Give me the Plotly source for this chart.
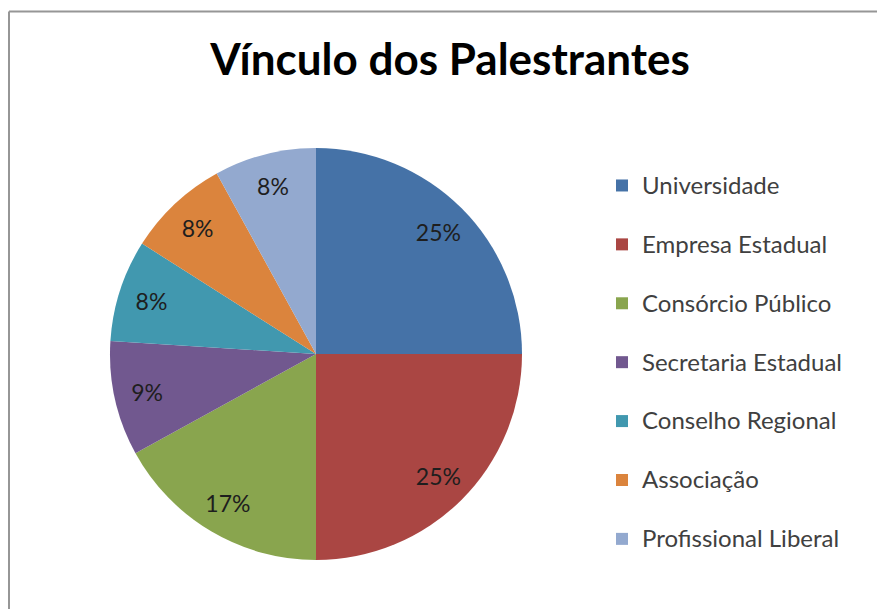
import plotly.graph_objects as go

categories = ["Universidade", "Empresa Estadual", "Consórcio Público",
              "Secretaria Estadual", "Conselho Regional", "Associação",
              "Profissional Liberal"]
values = [25, 25, 17, 9, 8, 8, 8]
colors = ["#4572A7", "#AA4643", "#89A54E", "#71588F", "#4198AF", "#DB843D", "#93A9CF"]
title_text = "Vínculo dos Palestrantes"

W, H = 877, 609
cx, cy, r = 316, 354, 206
domain = dict(x=[(cx - r) / W, (cx + r) / W], y=[(H - cy - r) / H, (H - cy + r) / H])

legend_labels = ["<span style='font-size:24px'>" + c + "</span><br> " for c in categories]

# filled pie (slices + legend)
pie = go.Pie(
    labels=legend_labels,
    values=values,
    marker=dict(colors=colors, line=dict(width=0)),
    sort=False,
    direction="clockwise",
    rotation=0,
    textinfo="none",
    domain=domain,
    hoverinfo="label+percent",
)
# transparent ring carrying the percentage labels further out, like Excel
ring = go.Pie(
    labels=legend_labels,
    values=values,
    hole=0.68,
    marker=dict(colors=["rgba(0,0,0,0)"] * len(values), line=dict(width=0)),
    sort=False,
    direction="clockwise",
    rotation=0,
    texttemplate="%{percent:.0%}",
    textposition="inside",
    insidetextorientation="horizontal",
    textfont=dict(family="Lato", size=23, color="#1e1e1e"),
    domain=domain,
    showlegend=False,
    hoverinfo="skip",
)

fig = go.Figure([pie, ring])

border = dict(color="#969696", width=2)
fig.update_layout(
    width=W, height=H,
    margin=dict(l=0, r=0, t=0, b=0),
    paper_bgcolor="white",
    plot_bgcolor="white",
    title=dict(text="<b>" + title_text + "</b>", x=450 / W, xanchor="center",
               y=1 - 60 / H, yanchor="middle",
               font=dict(family="Lato", size=44, color="#000000")),
    legend=dict(x=602 / W, xanchor="left", y=1 - 165 / H, yanchor="top",
                valign="top", font=dict(family="Lato", size=21.5, color="#404040"),
                bgcolor="rgba(0,0,0,0)"),
    shapes=[
        dict(type="line", xref="paper", yref="paper",
             x0=9 / W, x1=1, y0=1 - 11.5 / H, y1=1 - 11.5 / H, line=border),
        dict(type="line", xref="paper", yref="paper",
             x0=9 / W, x1=9 / W, y0=0, y1=1 - 11.5 / H, line=border),
    ],
)

fig.write_html(
    "out.html",
    config={"displayModeBar": False},
    post_script="document.body.style.margin='0';document.body.style.overflow='hidden';",
)
